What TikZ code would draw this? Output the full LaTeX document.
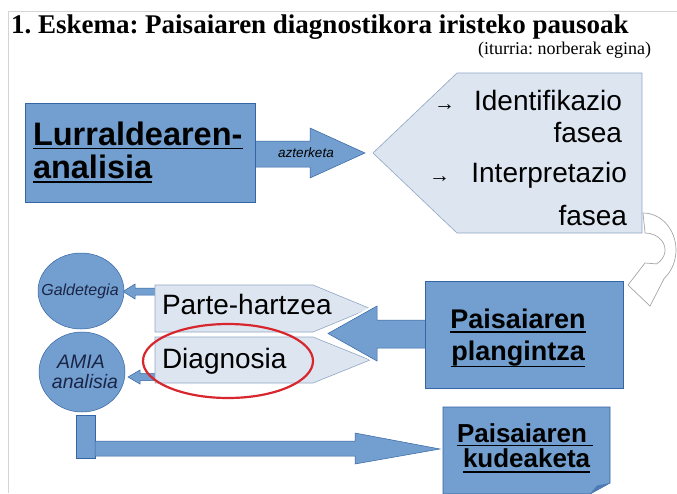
\documentclass[tikz,border=0pt]{standalone}
\usepackage{fontspec}
\usetikzlibrary{shapes.geometric}
\setmainfont{Liberation Serif}
\setsansfont{Liberation Sans}
\definecolor{boxblue}{HTML}{729FCF}
\definecolor{boxedge}{HTML}{3465A4}
\definecolor{lightfill}{HTML}{DDE6F0}
\definecolor{lightedge}{HTML}{8FA6C4}
\definecolor{ringred}{HTML}{D8262E}
\definecolor{navy}{HTML}{1B2547}
\definecolor{framegray}{HTML}{D4D4D4}
\definecolor{foldblue}{HTML}{4F7BB5}
\begin{document}
\frenchspacing
\begin{tikzpicture}[x=1pt,y=-1pt,line join=miter,
  bluebox/.style={fill=boxblue,draw=boxedge,line width=0.6pt},
  lightbox/.style={fill=lightfill,draw=lightedge,line width=0.6pt},
  blockarrow/.style={fill=boxblue,draw=boxedge,line width=0.5pt},
  txt/.style={inner sep=0pt,outer sep=0pt},
  bigtxt/.style={txt,font=\sffamily\bfseries\fontsize{32.5}{32.5}\selectfont},
  midtxt/.style={txt,font=\sffamily\bfseries\fontsize{27}{27}\selectfont},
  phasetxt/.style={txt,font=\sffamily\fontsize{28}{28}\selectfont},
  arrowtxt/.style={txt,font=\sffamily\fontsize{21}{21}\selectfont},
  circtxt/.style={txt,font=\sffamily\itshape,text=navy},
  ulline/.style={line width=1.8pt,black}]
\useasboundingbox (0,0) rectangle (677,493);
\fill[white] (0,0) rectangle (677,493);
% frame
\draw[framegray,line width=1pt] (8,493) -- (8,11.5) -- (677,11.5);
% title
\node[txt,anchor=base west,font=\bfseries\fontsize{27}{27}\selectfont] (title) at (11,33) {1. Eskema: Paisaiaren diagnostikora iristeko pausoak};
\node[txt,anchor=base east,font=\fontsize{18}{18}\selectfont] (source) at (651,54) {(iturria: norberak egina)};

% azterketa arrow
\filldraw[blockarrow] (250,141) -- (310,141) -- (310,128) -- (365,153) -- (310,178) -- (310,167) -- (250,167) -- cycle;
\node[txt,font=\sffamily\itshape\fontsize{13.5}{13.5}\selectfont] (azt) at (306,153) {azterketa};

% Lurraldearen box
\node[bluebox,anchor=north west,minimum width=230pt,minimum height=99pt,inner sep=0pt] (lurr) at (25,103) {};
\node[bigtxt,anchor=base west] (l1) at (33,145) {Lurraldearen-};
\node[bigtxt,anchor=base west] (l2) at (33,178) {analisia};
\draw[ulline] ([yshift=-3.5pt]l1.base west) -- ([yshift=-3.5pt]l1.base east);
\draw[ulline] ([yshift=-4pt]l2.base west) -- ([yshift=-4pt]l2.base east);

% phases pentagon
\filldraw[lightbox] (373,153) -- (457,73) -- (642,73) -- (642,233) -- (457,233) -- cycle;
\coordinate (phases) at (373,153);
\node[arrowtxt,anchor=base west] (ar1) at (434,110) {→};
\node[phasetxt,anchor=base east] (p1) at (622,110) {Identifikazio};
\node[phasetxt,anchor=base east] (p2) at (622,142) {fasea};
\node[arrowtxt,anchor=base west] (ar2) at (429,182) {→};
\node[phasetxt,anchor=base east] (p3) at (627,182) {Interpretazio};
\node[phasetxt,anchor=base east] (p4) at (627,225) {fasea};

% curved arrow
\filldraw[fill=white,draw=gray!70,line width=0.7pt] (643,213) arc[start angle=-90,end angle=50,x radius=33,y radius=37]
  -- (650,306) -- (628,285) -- (645,263) -- (656.5,263.9)
  arc[start angle=55,end angle=-90,x radius=20,y radius=17] -- cycle;

% small arrows to circles
\filldraw[blockarrow] (160,288) -- (135,288) -- (135,284) -- (123,291.5) -- (135,299) -- (135,295) -- (160,295) -- cycle;
\filldraw[blockarrow] (160,373.5) -- (140,373.5) -- (140,370) -- (128,377) -- (140,384) -- (140,380.5) -- (160,380.5) -- cycle;

% Parte-hartzea and Diagnosia
\filldraw[lightbox] (155,285) -- (313,285) -- (370,308.5) -- (313,332) -- (155,332) -- cycle;
\filldraw[lightbox] (155,337) -- (313,337) -- (370,360) -- (313,383) -- (155,383) -- cycle;
\node[phasetxt,anchor=base west] (parte) at (162,314) {Parte-hartzea};
\node[phasetxt,anchor=base west] (diag) at (162,368) {Diagnosia};

% circles
\node[ellipse,minimum width=86pt,minimum height=76pt,inner sep=0pt,fill=boxblue,draw=boxedge,line width=0.5pt] (gald) at (81,291) {};
\node[circtxt,font=\sffamily\itshape\fontsize{16}{16}\selectfont] (galdt) at (80,291) {Galdetegia};
\node[ellipse,minimum width=86pt,minimum height=80pt,inner sep=0pt,fill=boxblue,draw=boxedge,line width=0.5pt] (amia) at (82,372) {};
\node[circtxt,anchor=base,font=\sffamily\itshape\fontsize{19.5}{19.5}\selectfont] (amia1) at (81,368) {AMIA};
\node[circtxt,anchor=base,font=\sffamily\itshape\fontsize{19.5}{19.5}\selectfont] (amia2) at (85,388) {analisia};

% big arrow from plangintza
\draw[white,line width=5pt] (425,320) -- (377,320) -- (377,306) -- (328,333.5) -- (377,361) -- (377,348) -- (425,348);
\filldraw[blockarrow] (430,320) -- (377,320) -- (377,306) -- (328,333.5) -- (377,361) -- (377,348) -- (430,348) -- cycle;

% plangintza box
\node[bluebox,anchor=north west,minimum width=198pt,minimum height=107pt,inner sep=0pt] (plan) at (425,281) {};
\node[midtxt,anchor=base] (pl1) at (518,328) {Paisaiaren};
\node[midtxt,anchor=base] (pl2) at (518,360) {plangintza};
\draw[ulline] ([yshift=-4pt]pl1.base west) -- ([yshift=-4pt]pl1.base east);
\draw[ulline] ([yshift=-6.5pt]pl2.base west) -- ([yshift=-6.5pt]pl2.base east);

% ellipse highlight
\draw[ringred,line width=2.2pt] (228,361) ellipse[x radius=85,y radius=37];

% L arrow to kudeaketa
\filldraw[blockarrow] (76,415) rectangle (95,458);
\filldraw[blockarrow] (95,441) -- (355,441) -- (355,433) -- (440,449) -- (355,464) -- (355,456) -- (95,456) -- cycle;

% kudeaketa note
\filldraw[bluebox] (443,407) -- (610,407) -- (610,483) -- (590,494) -- (443,494) -- cycle;
\fill[foldblue] (590,494) -- (610,483) -- (597,485.5) -- cycle;
\coordinate (kud) at (526,450);
\node[midtxt,font=\sffamily\bfseries\fontsize{26}{26}\selectfont,anchor=base west] (k1) at (457,442) {Paisaiaren};
\node[midtxt,font=\sffamily\bfseries\fontsize{26}{26}\selectfont,anchor=base west] (k2) at (463,467) {kudeaketa};
\draw[ulline] ([yshift=-3.5pt]k1.base west) -- ([xshift=6pt,yshift=-3.5pt]k1.base east);
\draw[ulline] ([yshift=-5pt]k2.base west) -- ([yshift=-5pt]k2.base east);
\end{tikzpicture}
\end{document}
